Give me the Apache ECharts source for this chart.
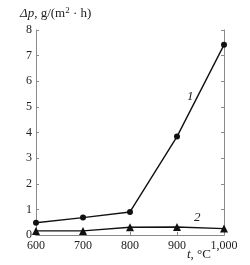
<!DOCTYPE html>
<html><head><meta charset="utf-8">
<script src="https://cdn.jsdelivr.net/npm/echarts@6/dist/echarts.min.js"></script>
<style>html,body{margin:0;padding:0;background:#fff}#c{width:250px;height:265px}</style>
</head><body><div id="c"></div>
<script>
const temps = [600, 700, 800, 900, 1000];
const curve1 = [0.48, 0.68, 0.9, 3.84, 7.42];
const curve2 = [0.16, 0.16, 0.3, 0.31, 0.25];
const yTicks = [0,1,2,3,4,5,6,7,8];
const xTicks = [600,700,800,900,1000];

const chart = echarts.init(document.getElementById('c'));
const font = "'Liberation Serif', 'DejaVu Serif', serif";
const axisGray = '#8a8a8a';
chart.setOption({
  animation: false,
  backgroundColor: '#fff',
  grid: {left: 36, right: 26, top: 30, bottom: 30},
  xAxis: [{
    type: 'value', min: 600, max: 1000, interval: 100,
    axisLine: {show: true, onZero: false, lineStyle: {color: axisGray, width: 1}},
    axisTick: {show: true, inside: true, length: 3, lineStyle: {color: axisGray}},
    axisLabel: {color: '#222', fontFamily: font, fontSize: 12, margin: 5, showMinLabel: true, showMaxLabel: true},
    splitLine: {show: false}
  }, {
    type: 'value', position: 'top', min: 600, max: 1000, interval: 100,
    axisLine: {show: true, lineStyle: {color: axisGray}},
    axisTick: {show: false}, axisLabel: {show: false}, splitLine: {show: false}
  }],
  yAxis: [{
    type: 'value', min: 0, max: 8, interval: 1,
    axisLine: {show: true, onZero: false, lineStyle: {color: axisGray, width: 1}},
    axisTick: {show: true, inside: true, length: 3, lineStyle: {color: axisGray}},
    axisLabel: {color: '#222', fontFamily: font, fontSize: 12, margin: 4},
    splitLine: {show: false}
  }, {
    type: 'value', position: 'right', min: 0, max: 8, interval: 1,
    axisLine: {show: true, lineStyle: {color: axisGray}},
    axisTick: {show: true, inside: true, length: 3, lineStyle: {color: axisGray}},
    axisLabel: {show: false}, splitLine: {show: false}
  }],
  series: [{
    type: 'line', xAxisIndex: 0, yAxisIndex: 0,
    data: temps.map((t, i) => [t, curve1[i]]),
    symbol: 'circle', symbolSize: 6,
    lineStyle: {color: '#111', width: 1.4},
    itemStyle: {color: '#111'}
  }, {
    type: 'line', xAxisIndex: 0, yAxisIndex: 0,
    data: temps.map((t, i) => [t, curve2[i]]),
    symbol: 'triangle', symbolSize: 8,
    lineStyle: {color: '#111', width: 1.4},
    itemStyle: {color: '#111'}
  }],
  graphic: [
    {type: 'text', left: 20, top: 6, style: {
      text: '{i|Δp}, g/(m{s|2} · h)', fill: '#222', font: '13px ' + font,
      rich: {i: {fontStyle: 'italic', fontFamily: font, fontSize: 13, fill: '#222'},
             s: {fontSize: 9, fontFamily: font, verticalAlign: 'top', padding: [0,0,6,0], fill: '#222'}}
    }},
    {type: 'text', left: 187, top: 248, style: {
      text: '{i|t}, °C', fill: '#222', font: '13px ' + font,
      rich: {i: {fontStyle: 'italic', fontFamily: font, fontSize: 13, fill: '#222'}}
    }},
    {type: 'text', left: 187, top: 90, style: {text: '1', fill: '#222', font: 'italic 13px ' + font}},
    {type: 'text', left: 194, top: 211, style: {text: '2', fill: '#222', font: 'italic 13px ' + font}}
  ]
});
</script></body></html>
